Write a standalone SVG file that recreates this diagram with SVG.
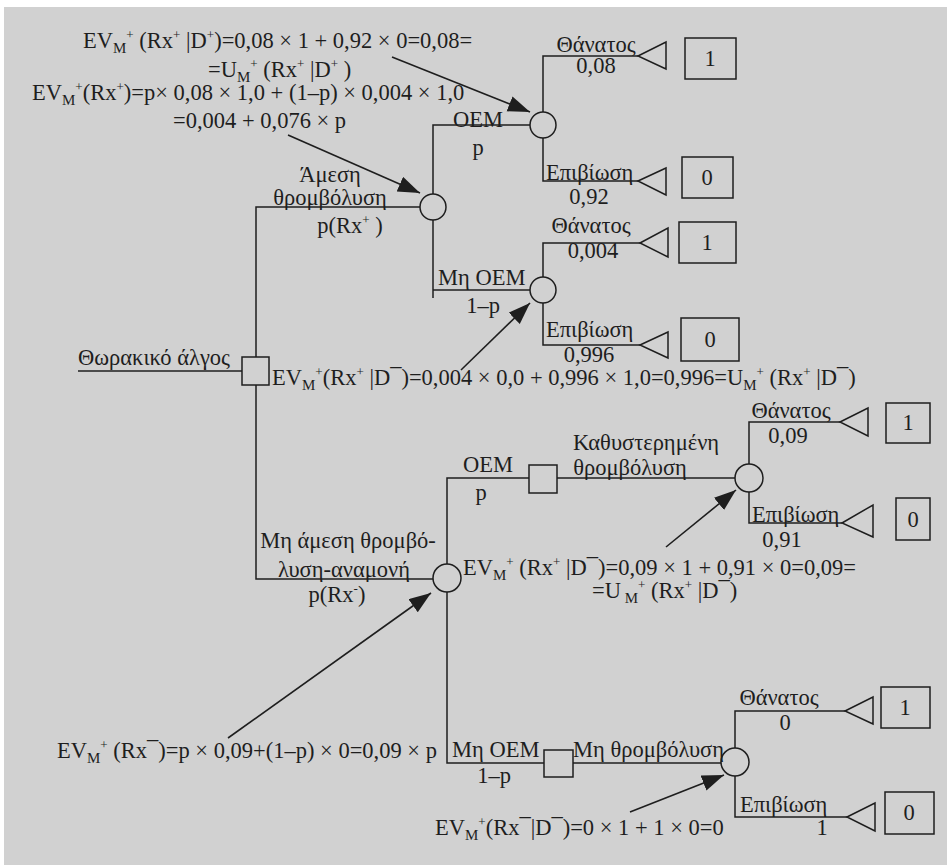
<svg xmlns="http://www.w3.org/2000/svg" width="947" height="865" viewBox="0 0 947 865">
<defs>
<style>
.t{font-family:"Liberation Serif","DejaVu Serif Condensed","DejaVu Serif","Times New Roman",serif;font-size:22.5px;fill:#1e1e1e}
.m{text-anchor:middle}
.sb{font-size:15px}
.sp{font-size:13px}
.ln{stroke:#1e1e1e;stroke-width:1.5;fill:none}
.nd{stroke:#1e1e1e;stroke-width:1.5;fill:none}
.ar{stroke:#1e1e1e;stroke-width:1.6;fill:none}
</style>
<marker id="ah" markerUnits="userSpaceOnUse" markerWidth="24" markerHeight="18" refX="22" refY="8" orient="auto">
<path d="M0,0 L22,8 L0,16 Z" fill="#1e1e1e"/>
</marker>
</defs>
<rect x="4" y="7" width="943" height="858" fill="#d1d1d1"/>

<g id="connectors">
<path class="ln" d="M78,371 H242"/>
<path class="ln" d="M256,357 V207 H420"/>
<path class="ln" d="M256,385 V579 H433"/>
<path class="ln" d="M433,194 V125 H530"/>
<path class="ln" d="M433,220 V298"/>
<path class="ln" d="M433,290 H530"/>
<path class="ln" d="M543,112 V56 H638"/>
<path class="ln" d="M543,138 V181 H638"/>
<path class="ln" d="M543,277 V243 H640"/>
<path class="ln" d="M543,303 V345 H640"/>
<path class="ln" d="M447,564 V478 H529"/>
<path class="ln" d="M557,478 H735"/>
<path class="ln" d="M447,592 V763 H544"/>
<path class="ln" d="M573,763 H721"/>
<path class="ln" d="M749,464 V422 H840"/>
<path class="ln" d="M749,492 V523 H842"/>
<path class="ln" d="M735,748 V711 H845"/>
<path class="ln" d="M735,776 V817 H847"/>
<line class="ar" x1="392" y1="57" x2="530" y2="112" marker-end="url(#ah)"/>
<line class="ar" x1="288" y1="135" x2="420" y2="193" marker-end="url(#ah)"/>
<line class="ar" x1="461" y1="370" x2="530" y2="303" marker-end="url(#ah)"/>
<line class="ar" x1="666" y1="547" x2="736" y2="490" marker-end="url(#ah)"/>
<line class="ar" x1="228" y1="738" x2="431" y2="593" marker-end="url(#ah)"/>
<line class="ar" x1="630" y1="812" x2="724" y2="775" marker-end="url(#ah)"/>
</g>

<g id="root">
<rect class="nd" x="242" y="357" width="27" height="28"/>
<text class="t" x="78" y="365">Θωρακικό άλγος</text>
</g>

<g id="chanceA">
<circle class="nd" cx="433" cy="207" r="13"/>
<text class="t m" x="330" y="182">Άμεση</text>
<text class="t m" x="330" y="205">θρομβόλυση</text>
<text class="t m" x="350" y="233">p(Rx<tspan class="sp" dy="-9">+</tspan><tspan dy="9"> )</tspan></text>
</g>

<g id="chanceC">
<circle class="nd" cx="543" cy="125" r="13"/>
<text class="t m" x="478" y="127">OEM</text>
<text class="t m" x="478" y="155">p</text>
<text class="t m" x="596" y="52">Θάνατος</text>
<text class="t m" x="596" y="73">0,08</text>
<text class="t" x="546" y="180">Επιβίωση</text>
<text class="t m" x="589" y="204">0,92</text>
</g>
<g id="termC1"><path class="nd" d="M638,56 L666,42 L666,69 Z"/><rect class="nd" x="685" y="38" width="51" height="41"/><text class="t m" x="710" y="66">1</text></g>
<g id="termC0"><path class="nd" d="M638,181 L666,168 L666,195 Z"/><rect class="nd" x="682" y="157" width="51" height="41"/><text class="t m" x="707" y="185">0</text></g>

<g id="chanceD">
<circle class="nd" cx="543" cy="290" r="13"/>
<text class="t" x="438" y="285">Μη OEM</text>
<text class="t m" x="483" y="313">1–p</text>
<text class="t m" x="591" y="233">Θάνατος</text>
<text class="t m" x="593" y="258">0,004</text>
<text class="t" x="546" y="337">Επιβίωση</text>
<text class="t m" x="589" y="362">0,996</text>
</g>
<g id="termD1"><path class="nd" d="M640,243 L668,228 L668,257 Z"/><rect class="nd" x="679" y="222" width="57" height="41"/><text class="t m" x="707" y="250">1</text></g>
<g id="termD0"><path class="nd" d="M640,345 L668,332 L668,358 Z"/><rect class="nd" x="681" y="318" width="58" height="43"/><text class="t m" x="710" y="347">0</text></g>

<g id="labels-top">
<text class="t" x="83" y="48">EV<tspan class="sb" dy="5">M</tspan><tspan class="sp" dy="-14">+</tspan><tspan dy="9"> (Rx</tspan><tspan class="sp" dy="-9">+</tspan><tspan dy="9"> |D</tspan><tspan class="sp" dy="-9">+</tspan><tspan dy="9">)=0,08 × 1 + 0,92 × 0=0,08=</tspan></text>
<text class="t" x="208" y="77">=U<tspan class="sb" dy="5">M</tspan><tspan class="sp" dy="-14">+</tspan><tspan dy="9"> (Rx</tspan><tspan class="sp" dy="-9">+</tspan><tspan dy="9"> |D</tspan><tspan class="sp" dy="-9">+</tspan><tspan dy="9"> )</tspan></text>
<text class="t" x="32" y="100">EV<tspan class="sb" dy="5">M</tspan><tspan class="sp" dy="-14">+</tspan><tspan dy="9">(Rx</tspan><tspan class="sp" dy="-9">+</tspan><tspan dy="9">)=p× 0,08 × 1,0 + (1–p) × 0,004 × 1,0</tspan></text>
<text class="t" x="173" y="128">=0,004 + 0,076 × p</text>
<text class="t" x="272" y="385">EV<tspan class="sb" dy="5">M</tspan><tspan class="sp" dy="-14">+</tspan><tspan dy="9">(Rx</tspan><tspan class="sp" dy="-9">+</tspan><tspan dy="9"> |D¯)=0,004 × 0,0 + 0,996 × 1,0=0,996=U</tspan><tspan class="sb" dy="5">M</tspan><tspan class="sp" dy="-14">+</tspan><tspan dy="9"> (Rx</tspan><tspan class="sp" dy="-9">+</tspan><tspan dy="9"> |D¯)</tspan></text>
</g>

<g id="chanceB">
<circle class="nd" cx="447" cy="578" r="14"/>
<text class="t m" x="348" y="548">Μη άμεση θρομβό-</text>
<text class="t m" x="344" y="577">λυση-αναμονή</text>
<text class="t m" x="337" y="602">p(Rx<tspan class="sp" dy="-9">-</tspan><tspan dy="9">)</tspan></text>
<text class="t" x="57" y="758">EV<tspan class="sb" dy="5">M</tspan><tspan class="sp" dy="-14">+</tspan><tspan dy="9"> (Rx¯)=p × 0,09+(1–p) × 0=0,09 × p</tspan></text>
</g>

<g id="decisionE">
<rect class="nd" x="529" y="465" width="28" height="28"/>
<text class="t m" x="488" y="472">OEM</text>
<text class="t m" x="481" y="500">p</text>
<text class="t m" x="646" y="450">Καθυστερημένη</text>
<text class="t m" x="630" y="475">θρομβόλυση</text>
</g>

<g id="chanceF">
<circle class="nd" cx="749" cy="478" r="14"/>
<text class="t m" x="791" y="418">Θάνατος</text>
<text class="t m" x="788" y="443">0,09</text>
<text class="t" x="752" y="522">Επιβίωση</text>
<text class="t m" x="782" y="547">0,91</text>
<text class="t" x="463" y="575">EV<tspan class="sb" dy="5">M</tspan><tspan class="sp" dy="-14">+</tspan><tspan dy="9"> (Rx</tspan><tspan class="sp" dy="-9">+</tspan><tspan dy="9"> |D¯)=0,09 × 1 + 0,91 × 0=0,09=</tspan></text>
<text class="t" x="592" y="598">=U<tspan class="sb" dy="5"> M</tspan><tspan class="sp" dy="-14">+</tspan><tspan dy="9"> (Rx</tspan><tspan class="sp" dy="-9">+</tspan><tspan dy="9"> |D¯)</tspan></text>
</g>
<g id="termF1"><path class="nd" d="M840,422 L868,408 L868,436 Z"/><rect class="nd" x="886" y="403" width="44" height="40"/><text class="t m" x="908" y="430">1</text></g>
<g id="termF0"><path class="nd" d="M842,523 L873,505 L873,537 Z"/><rect class="nd" x="896" y="498" width="34" height="42"/><text class="t m" x="913" y="527">0</text></g>

<g id="decisionG">
<rect class="nd" x="544" y="750" width="29" height="27"/>
<text class="t" x="452" y="757">Μη OEM</text>
<text class="t m" x="494" y="783">1–p</text>
<text class="t" x="573" y="757">Μη θρομβόλυση</text>
</g>

<g id="chanceH">
<circle class="nd" cx="735" cy="762" r="14"/>
<text class="t m" x="779" y="705">Θάνατος</text>
<text class="t m" x="785" y="730">0</text>
<text class="t" x="740" y="812">Επιβίωση</text>
<text class="t m" x="822" y="835">1</text>
<text class="t" x="435" y="835">EV<tspan class="sb" dy="5">M</tspan><tspan class="sp" dy="-14">+</tspan><tspan dy="9">(Rx¯|D¯)=0 × 1 + 1 × 0=0</tspan></text>
</g>
<g id="termH1"><path class="nd" d="M845,711 L873,697 L873,724 Z"/><rect class="nd" x="881" y="687" width="49" height="41"/><text class="t m" x="905" y="715">1</text></g>
<g id="termH0"><path class="nd" d="M847,817 L875,803 L875,831 Z"/><rect class="nd" x="885" y="792" width="49" height="42"/><text class="t m" x="909" y="820">0</text></g>
</svg>
